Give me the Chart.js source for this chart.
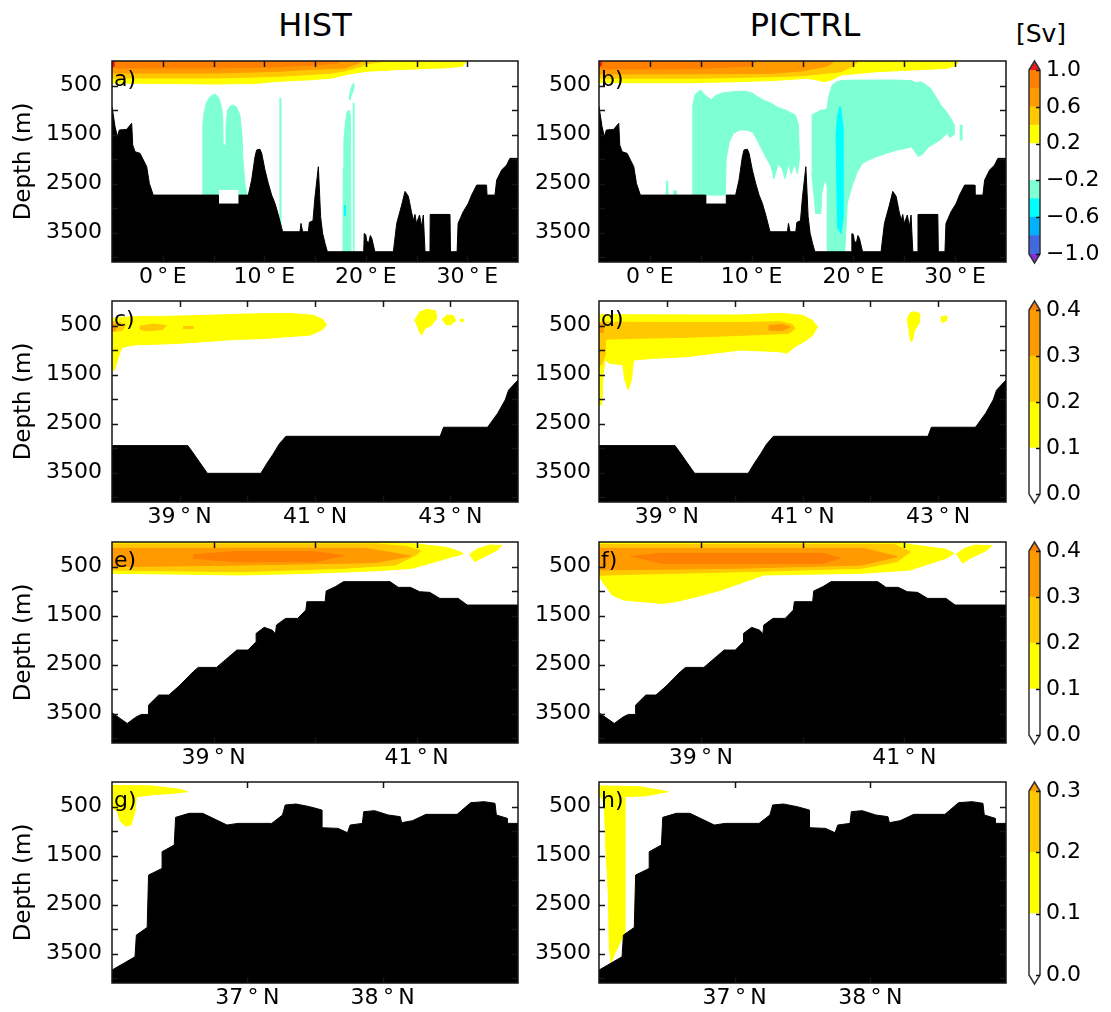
<!DOCTYPE html>
<html>
<head>
<meta charset="utf-8">
<script src="https://cdn.jsdelivr.net/npm/chart.js@4.4.1/dist/chart.umd.min.js"></script>
<style>
  html, body { margin: 0; padding: 0; background: #fff; }
  #wrap { position: relative; width: 1111px; height: 1012px; overflow: hidden; background: #fff; }
  #wrap canvas { position: absolute; }
  .lbl { position: absolute; transform: translate(-50%, -50%); white-space: nowrap; color: #000;
         font-family: "DejaVu Sans", Verdana, sans-serif; line-height: 1; }
</style>
</head>
<body>
<div id="wrap">
  <div class="lbl" style="left:315px; top:25px; font-size:32px;">HIST</div>
  <div class="lbl" style="left:805px; top:25px; font-size:32px;">PICTRL</div>
  <div class="lbl" style="left:1041px; top:33px; font-size:25px;">[Sv]</div>
</div>
<script>
// ---------------- axes ----------------
const DEPTH_MAX = 4100;
const depthLabels = [500, 1500, 2500, 3500];
const depthMarks = [500, 1000, 1500, 2000, 2500, 3000, 3500, 4000];

const lonRange = [-5, 35];
const lonLabels = [0, 10, 20, 30];
const lonMarks = [0, 5, 10, 15, 20, 25, 30];

const latRange2 = [38, 44];
const latLabels2 = [39, 41, 43];
const latMarks2 = [39, 40, 41, 42, 43];

const latRange3 = [38, 42];
const latLabels3 = [39, 41];
const latMarks3 = [39, 40, 41];

const latRange4 = [36, 39];
const latLabels4 = [37, 38];
const latMarks4 = [37, 38];

// ---------------- colour scales [Sv] ----------------
const WHITE = '#FFFFFF', YELLOW = '#FFFF00', GOLD = '#FFC800', ORANGE = '#FF9A00',
      DORANGE = '#FF8000', RED = '#EE1C1C', AQUA = '#7FFFD4', CYAN = '#00FFFF',
      SKY = '#00B2FF', ROYAL = '#4169E1', PURPLE = '#8A2BE2';

const zonalLevels = [-1.0, -0.8, -0.6, -0.4, -0.2, 0.0, 0.2, 0.4, 0.6, 0.8, 1.0];
const zonalColors = [ROYAL, SKY, CYAN, AQUA, WHITE, WHITE, YELLOW, GOLD, ORANGE, DORANGE];
const zonalTicks = [-1.0, -0.6, -0.2, 0.2, 0.6, 1.0];

const meridLevels = [0.0, 0.1, 0.2, 0.3, 0.4];
const meridColors = [WHITE, YELLOW, GOLD, ORANGE];
const meridTicks = [0.0, 0.1, 0.2, 0.3, 0.4];

const southLevels = [0.0, 0.1, 0.2, 0.3];
const southColors = [WHITE, YELLOW, GOLD];
const southTicks = [0.0, 0.1, 0.2, 0.3];

// ---------------- bottom topography [lon|lat, depth m] ----------------
const bathyZonal = [[-5,930],[-4.97,930],[-4.7,1340],[-4.47,1544],[-4.28,1408],[-3.88,1400],[-3.56,1395],
  [-3.06,1272],[-2.96,1714],[-2.73,1850],[-2.24,1884],[-1.91,2020],[-1.58,2156],[-1.32,2497],[-0.99,2701],
  [-0.93,2735],[5.48,2735],[5.48,2918],[7.51,2918],[7.51,2735],[8.43,2735],[8.76,2429],[9.09,1952],
  [9.25,1816],[9.58,1800],[9.75,1884],[10.07,2224],[10.4,2497],[10.73,2735],[11.06,2905],[11.39,3143],
  [11.81,3483],[13.52,3483],[13.62,3313],[13.78,3483],[14.34,3483],[14.45,3290],[14.8,3258],[15.0,2769],
  [15.33,2156],[15.45,2700],[15.55,3170],[15.75,3517],[15.99,3721],[16.22,3891],[19.8,3891],[19.85,3520],
  [20.0,3540],[20.1,3680],[20.3,3700],[20.45,3560],[20.6,3620],[20.9,3891],[22.72,3891],[23.05,3313],
  [23.54,2939],[23.87,2660],[24.2,2760],[24.5,3075],[24.7,3250],[24.85,3130],[25.0,3313],[25.3,3143],
  [25.51,3381],[25.67,3143],[25.84,3891],[26.33,3891],[26.35,3130],[28.3,3130],[28.35,3891],[29.0,3891],
  [29.1,3313],[29.6,3075],[30.1,2905],[30.43,2735],[30.93,2531],[31.9,2531],[31.95,2735],[32.73,2735],
  [32.9,2429],[33.39,2224],[33.88,2122],[34.2,1986],[35,1986]];

const bathyMerid2 = [[38,2950],[39.12,2950],[39.2,3100],[39.3,3300],[39.41,3515],[40.2,3515],[40.29,3310],
  [40.38,3125],[40.47,2920],[40.57,2760],[42.85,2760],[42.9,2575],[43.55,2575],[43.7,2290],[43.81,2020],
  [43.86,1820],[43.93,1715],[44,1610]];

const bathyMerid3 = [[38.0,3483],[38.15,3701],[38.24,3565],[38.29,3517],[38.36,3517],[38.36,3327],
  [38.46,3122],[38.56,3122],[38.66,2939],[38.8,2646],[38.85,2558],[39.03,2558],[39.23,2204],[39.34,2204],
  [39.42,2034],[39.42,1864],[39.5,1741],[39.58,1800],[39.61,1878],[39.62,1694],[39.71,1558],[39.83,1558],
  [39.91,1388],[39.92,1218],[40.1,1218],[40.11,1000],[40.2,911],[40.28,809],[40.74,809],[40.82,925],
  [40.94,925],[41.03,1014],[41.13,1027],[41.23,1150],[41.41,1150],[41.5,1286],[42.0,1286]];

const bathyMerid4 = [[36.0,3837],[36.17,3565],[36.18,3122],[36.26,2966],[36.27,1898],[36.37,1762],
  [36.37,1422],[36.46,1286],[36.47,721],[36.57,639],[36.67,639],[36.85,878],[36.93,844],[37.18,844],
  [37.26,673],[37.28,469],[37.36,449],[37.46,503],[37.55,571],[37.55,932],[37.67,946],[37.74,1034],
  [37.76,878],[37.85,844],[37.86,605],[37.94,585],[38.04,673],[38.13,707],[38.14,830],[38.22,789],
  [38.32,660],[38.55,660],[38.65,422],[38.75,401],[38.83,435],[38.84,673],[38.92,741],[38.92,844],[39.0,844]];

// ---------------- transport contour regions [lon|lat, depth m] ----------------
// a) HIST, zonal section
const histA_pos02 = [[-5,0],[30,0],[29.8,40],[29.5,110],[27.8,140],[22.9,177],[20,211],[18,279],[16.7,347],
  [14.7,381],[11.4,415],[9,460],[5,470],[1,460],[-5,450]];
const histA_pos04 = [[-5,0],[22,0],[20,60],[19.6,109],[18,197],[16.5,250],[11.4,313],[5,347],[-5,347]];
const histA_pos06 = [[-5,0],[19.6,0],[19.3,40],[18,143],[14.7,170],[11.4,211],[5,245],[-5,245]];
const histA_pos08 = [[-5,0],[17.5,0],[17.3,41],[14.7,88],[9.8,129],[5,140],[-5,143]];
const histA_pos10 = [[-5,0],[-4.8,0],[-4.8,110],[-5,110]];
const histA_neg02a = [[3.93,2760],[3.95,1300],[4.06,1068],[4.3,850],[4.7,720],[5.15,673],[5.5,740],[5.8,950],
  [5.92,1200],[5.95,1714],[6.2,1714],[6.23,1300],[6.4,1000],[6.7,910],[6.98,898],[7.3,950],[7.6,1100],
  [7.8,1500],[7.9,2000],[8.1,2500],[8.3,2760],[7.51,2760],[7.51,2620],[5.48,2620],[5.48,2760]];
const histA_neg02b = [[11.49,761],[11.62,761],[11.62,3500],[11.49,3500]];
const histA_neg02c = [[17.75,3900],[17.78,2200],[17.85,1600],[18.0,1250],[18.15,1040],[18.35,1000],[18.5,1100],[18.55,3900]];
const histA_neg02d = [[18.72,860],[18.82,860],[18.82,3900],[18.72,3900]];
const histA_neg02e = [[18.35,780],[18.45,650],[18.55,560],[18.7,470],[18.82,455],[18.85,530],[18.7,640],[18.55,720],[18.45,800]];
const histA_neg04 = [[17.85,2950],[17.98,2950],[17.98,3150],[17.85,3150]];

// b) PICTRL, zonal section
const pictB_pos02 = [[-5,0],[30.3,0],[30.2,60],[30.0,100],[29.2,150],[25.7,184],[22.3,218],[18.8,286],
  [17.9,380],[17.1,422],[16.3,380],[15.4,354],[12,400],[8.45,422],[4,442],[-5,442]];
const pictB_pos04 = [[-5,0],[20.5,0],[20,100],[18.8,218],[15,300],[11.9,320],[5,350],[-5,354]];
const pictB_pos06 = [[-5,0],[18.1,0],[17.5,100],[15,200],[11.9,252],[5,262],[-5,265]];
const pictB_pos08 = [[-5,0],[10.5,0],[10,100],[5,150],[0,163],[-5,163]];
const pictB_pos10 = [[-5,0],[-4.8,0],[-4.8,100],[-5,100]];
const pictB_neg02a = [[4.2,2760],[4.2,1300],[4.23,900],[4.45,680],[4.99,592],[5.45,700],[6.03,790],[6.5,700],
  [7.2,650],[8.45,620],[9.48,620],[10.1,660],[10.52,720],[11.2,800],[11.9,860],[12.6,950],[13.3,1000],
  [13.8,1050],[14.3,1100],[14.6,1300],[14.7,2000],[14.5,2300],[14.2,2100],[13.9,2300],[13.6,2100],
  [13.3,2400],[13.0,2200],[12.6,2100],[12.2,2400],[11.9,2150],[11.5,2000],[11.0,1800],[10.52,1600],
  [10.1,1450],[9.48,1408],[8.8,1408],[8.2,1480],[7.8,1650],[7.5,2000],[7.41,2735],[5.48,2735],[5.48,2760]];
const pictB_neg02b = [[15.9,1100],[16.4,1050],[16.8,1000],[17.2,1000],[17.43,950],[17.6,700],[17.9,500],
  [18.3,430],[18.8,400],[20,390],[22.27,388],[24,388],[25.7,400],[26.2,450],[26.6,420],[27,470],[27.6,560],
  [28.2,760],[28.6,900],[29.2,1050],[29.6,1180],[29.9,1300],[29.9,1500],[29.5,1560],[29.2,1476],[28.6,1600],
  [28.0,1680],[27.4,1750],[26.8,1900],[26.4,1950],[25.7,1748],[25,1790],[24.2,1820],[23.3,1880],[22.27,1952],
  [21.5,2020],[20.9,2088],[20.4,2250],[19.85,2565],[19.4,2900],[19.15,3900],[17.5,3900],[17.43,2565],
  [17.2,2400],[16.9,2700],[16.8,3109],[16.3,3109],[16.1,2700],[15.9,2300]];
const pictB_neg02c = [[30.45,1306],[30.65,1306],[30.65,1612],[30.45,1612]];
const pictB_neg02d = [[1.6,2450],[1.75,2450],[1.8,2760],[1.55,2760]];
const pictB_neg02e = [[2.3,2650],[2.6,2650],[2.6,2760],[2.3,2760]];
const pictB_neg04 = [[18.6,932],[18.75,940],[18.95,1300],[18.97,3200],[18.8,3517],[18.45,3400],[18.3,1500],[18.45,1100]];

// c) HIST, second section
const histC_pos01 = [[38.0,353],[38.31,320],[39.05,306],[39.99,265],[40.63,252],[40.97,290],[41.12,380],
  [41.17,490],[41.1,592],[40.93,694],[40.28,762],[39.69,796],[39.0,864],[38.31,898],[38.15,950],[38.12,1034],
  [38.06,1300],[38.04,1408],[38.0,1408]];
const histC_pos01b = [[42.47,400],[42.55,220],[42.65,170],[42.78,200],[42.8,350],[42.72,500],[42.62,560],[42.58,694],[42.53,600]];
const histC_pos01c = [[42.88,380],[42.95,286],[43.05,300],[43.08,400],[43.0,490],[42.92,470]];
const histC_pos01d = [[43.14,371],[43.19,371],[43.19,418],[43.14,418]];
const histC_pos02a = [[38.0,422],[38.12,430],[38.2,500],[38.15,600],[38.0,626]];
const histC_pos02b = [[38.41,520],[38.6,470],[38.8,500],[38.75,580],[38.5,610],[38.41,570]];
const histC_pos02c = [[39.05,520],[39.2,520],[39.2,560],[39.05,560]];
const histC_pos03 = [[38.0,470],[38.05,480],[38.05,600],[38.0,610]];

// d) PICTRL, second section
const pictD_pos01 = [[38.0,280],[40.08,286],[40.67,251],[41.0,290],[41.15,400],[41.22,524],[41.15,700],
  [41.06,796],[40.89,932],[40.77,1068],[40.67,1034],[40.08,1000],[39.29,1136],[38.8,1170],[38.51,1204],
  [38.48,1600],[38.43,1816],[38.38,1600],[38.35,1300],[38.16,1272],[38.09,1200],[38.06,1500],[38.04,2122],[38.0,2122]];
const pictD_pos01b = [[42.54,400],[42.58,250],[42.65,218],[42.73,260],[42.72,450],[42.65,600],[42.62,800],[42.6,830],[42.57,650]];
const pictD_pos01c = [[43.04,320],[43.13,306],[43.12,400],[43.07,442],[43.04,400]];
const pictD_pos02 = [[38.0,430],[39,440],[40.08,440],[40.67,422],[40.85,480],[40.89,560],[40.8,660],[40.08,700],
  [39.3,740],[38.5,762],[38.1,780],[38.09,1100],[38.04,1300],[38.0,1300]];
const pictD_pos03a = [[38.0,470],[38.06,470],[38.06,640],[38.0,640]];
const pictD_pos03b = [[40.5,500],[40.7,480],[40.82,530],[40.7,600],[40.5,590]];

// e) HIST, third section
const histE_pos01 = [[38.0,0],[40.62,0],[41.0,40],[41.3,110],[41.43,200],[41.46,240],[41.3,333],[41.13,435],
  [40.96,537],[40.62,585],[39.94,639],[39.27,673],[38.6,653],[38.0,639]];
const histE_pos01b = [[41.52,260],[41.6,140],[41.72,61],[41.84,70],[41.8,160],[41.67,300],[41.57,401]];
const histE_pos02 = [[38.0,40],[40.6,40],[40.9,90],[41.04,180],[41.0,260],[40.79,469],[40.28,537],[39.27,605],[38.0,571]];
const histE_pos03 = [[38.0,129],[40.5,129],[40.94,286],[40.6,420],[39.3,469],[38.0,503]];
const histE_pos04 = [[38.8,260],[39.2,197],[40.0,197],[40.28,280],[40.0,401],[39.2,401],[38.8,330]];

// f) PICTRL, third section
const pictF_pos01 = [[38.0,0],[40.9,0],[41.1,61],[41.41,150],[41.49,231],[41.41,333],[41.06,571],[40.58,639],
  [39.62,673],[39.48,776],[39.2,980],[38.96,1116],[38.75,1218],[38.62,1252],[38.24,1184],[38.13,1082],[38.0,707]];
const pictF_pos01b = [[41.51,250],[41.6,120],[41.7,61],[41.86,80],[41.8,180],[41.65,330],[41.57,435]];
const pictF_pos02 = [[38.0,50],[40.9,50],[41.06,200],[40.93,400],[40.58,537],[39.5,600],[38.3,660],[38.0,680]];
const pictF_pos03 = [[38.0,129],[40.6,129],[40.93,299],[40.58,469],[39.33,537],[38.0,571]];
const pictF_pos04 = [[38.31,300],[38.6,231],[40.2,231],[40.37,330],[40.2,435],[38.6,435]];

// g) HIST, fourth section
const histG_pos01 = [[36.0,70],[36.3,80],[36.5,150],[36.56,197],[36.45,231],[36.3,260],[36.18,300],[36.17,600],
  [36.14,878],[36.1,900],[36.06,800],[36.04,600],[36.0,520]];

// h) PICTRL, fourth section
const pictH_pos01 = [[36.0,80],[36.3,95],[36.51,197],[36.35,280],[36.19,299],[36.19,3088],[36.15,3300],
  [36.1,3600],[36.09,3701],[36.075,3361],[36.07,2340],[36.05,1320],[36.04,500],[36.02,320],[36.0,300]];

// ---------------- figure layout ----------------
const FONT = '"DejaVu Sans", Verdana, sans-serif';
Chart.defaults.font.family = FONT;
Chart.defaults.color = '#000';

const COL_X = [112, 599];
const COL_W = [406, 407];
const COL_CANVAS_LEFT = [0, 527];
const COL_LABEL_PAD = [10, 8];
const ROW_Y = [61, 301, 542, 782];
const ROW_H = 201;
const BAR_LEFT = 1029, BAR_RIGHT = 1040;

const sections = [
  { range: lonRange, labels: lonLabels, marks: lonMarks, hemi: 'E', bathy: bathyZonal },
  { range: latRange2, labels: latLabels2, marks: latMarks2, hemi: 'N', bathy: bathyMerid2 },
  { range: latRange3, labels: latLabels3, marks: latMarks3, hemi: 'N', bathy: bathyMerid3 },
  { range: latRange4, labels: latLabels4, marks: latMarks4, hemi: 'N', bathy: bathyMerid4 }
];

const colorbars = [
  { levels: zonalLevels, colors: zonalColors, ticks: zonalTicks, under: PURPLE, over: RED },
  { levels: meridLevels, colors: meridColors, ticks: meridTicks, under: WHITE, over: DORANGE },
  { levels: meridLevels, colors: meridColors, ticks: meridTicks, under: WHITE, over: DORANGE },
  { levels: southLevels, colors: southColors, ticks: southTicks, under: WHITE, over: ORANGE }
];

const panels = [
  { tag: 'a', row: 0, col: 0, regions: [[histA_pos02,0.2],[histA_pos04,0.4],[histA_pos06,0.6],[histA_pos08,0.8],[histA_pos10,1.0],
      [histA_neg02a,-0.2],[histA_neg02b,-0.2],[histA_neg02c,-0.2],[histA_neg02d,-0.2],[histA_neg02e,-0.2],[histA_neg04,-0.4]] },
  { tag: 'b', row: 0, col: 1, regions: [[pictB_pos02,0.2],[pictB_pos04,0.4],[pictB_pos06,0.6],[pictB_pos08,0.8],[pictB_pos10,1.0],
      [pictB_neg02a,-0.2],[pictB_neg02b,-0.2],[pictB_neg02c,-0.2],[pictB_neg02d,-0.2],[pictB_neg02e,-0.2],[pictB_neg04,-0.4]] },
  { tag: 'c', row: 1, col: 0, regions: [[histC_pos01,0.1],[histC_pos01b,0.1],[histC_pos01c,0.1],[histC_pos01d,0.1],
      [histC_pos02a,0.2],[histC_pos02b,0.2],[histC_pos02c,0.2],[histC_pos03,0.3]] },
  { tag: 'd', row: 1, col: 1, regions: [[pictD_pos01,0.1],[pictD_pos01b,0.1],[pictD_pos01c,0.1],[pictD_pos02,0.2],
      [pictD_pos03a,0.3],[pictD_pos03b,0.3]] },
  { tag: 'e', row: 2, col: 0, regions: [[histE_pos01,0.1],[histE_pos01b,0.1],[histE_pos02,0.2],[histE_pos03,0.3],[histE_pos04,0.4]] },
  { tag: 'f', row: 2, col: 1, regions: [[pictF_pos01,0.1],[pictF_pos01b,0.1],[pictF_pos02,0.2],[pictF_pos03,0.3],[pictF_pos04,0.4]] },
  { tag: 'g', row: 3, col: 0, regions: [[histG_pos01,0.1]] },
  { tag: 'h', row: 3, col: 1, regions: [[pictH_pos01,0.1]] }
];

// ---------------- helpers ----------------
const wrap = document.getElementById('wrap');

function addCanvas(left, top, w, h) {
  const c = document.createElement('canvas');
  c.width = w; c.height = h;
  c.style.left = left + 'px'; c.style.top = top + 'px';
  c.style.width = w + 'px'; c.style.height = h + 'px';
  wrap.appendChild(c);
  return c;
}

const toXY = pts => pts.map(([x, y]) => ({ x, y }));

// colour of the band bounded by a contour level (towards larger |value|)
function colorFor(cb, level) {
  const L = cb.levels;
  if (level > 0) {
    if (level >= L[L.length - 1]) return cb.over;
    const i = L.findIndex(v => Math.abs(v - level) < 1e-9);
    return cb.colors[i];
  }
  if (level <= L[0]) return cb.under;
  const i = L.findIndex(v => Math.abs(v - level) < 1e-9);
  return cb.colors[i - 1];
}

const fmtSv = v => (v < 0 ? '\u2212' : '') + Math.abs(v).toFixed(1);

// frame, inward tick marks and panel letter
function panelDecor(tag, xMarks) {
  return {
    id: 'panelDecor',
    afterDatasetsDraw(chart) {
      const { ctx, chartArea: a, scales: { x, y } } = chart;
      ctx.save();
      ctx.strokeStyle = '#151515';
      ctx.lineWidth = 1.5;
      ctx.beginPath();
      for (const v of xMarks) {
        const px = Math.round(x.getPixelForValue(v)) + 0.5;
        ctx.moveTo(px, a.top); ctx.lineTo(px, a.top + 6);
        ctx.moveTo(px, a.bottom); ctx.lineTo(px, a.bottom - 6);
      }
      for (const v of depthMarks) {
        const py = Math.round(y.getPixelForValue(v)) + 0.5;
        ctx.moveTo(a.left, py); ctx.lineTo(a.left + 6, py);
        ctx.moveTo(a.right, py); ctx.lineTo(a.right - 6, py);
      }
      ctx.stroke();
      ctx.strokeRect(a.left, a.top, a.right - a.left, a.bottom - a.top);
      ctx.fillStyle = '#000';
      ctx.font = '22px ' + FONT;
      ctx.textAlign = 'left';
      ctx.textBaseline = 'middle';
      ctx.fillText(tag + ')', a.left + 2, a.top + 19);
      ctx.restore();
    }
  };
}

function makePanel(p) {
  const sec = sections[p.row];
  const cb = colorbars[p.row];
  const left = COL_CANVAS_LEFT[p.col];
  const yAxisW = COL_X[p.col] - left;
  const padTop = 26, padRight = 8, axisH = 36;
  const cv = addCanvas(left, ROW_Y[p.row] - padTop, yAxisW + COL_W[p.col] + padRight, padTop + ROW_H + axisH);

  const n = p.regions.length;
  const datasets = [{
    data: toXY(sec.bathy), fill: { value: DEPTH_MAX },
    backgroundColor: '#000', borderColor: '#000', borderWidth: 1, order: 0
  }];
  p.regions.forEach(([pts, level], i) => {
    const c = colorFor(cb, level);
    datasets.push({ data: toXY(pts), fill: 'shape', backgroundColor: c, borderColor: c, borderWidth: 1, order: n - i });
  });

  new Chart(cv, {
    type: 'line',
    data: { datasets },
    options: {
      responsive: false, animation: false, devicePixelRatio: 1, events: [],
      layout: { padding: { top: padTop, right: padRight, left: 0, bottom: 0 } },
      elements: { point: { radius: 0 }, line: { tension: 0 } },
      plugins: { legend: { display: false }, tooltip: { enabled: false }, filler: { propagate: false } },
      scales: {
        x: {
          type: 'linear', min: sec.range[0], max: sec.range[1],
          grid: { display: false, drawTicks: false }, border: { display: false },
          ticks: { font: { size: 22 }, color: '#000', padding: 2, autoSkip: false, maxRotation: 0, minRotation: 0,
                   callback: v => v + '\u2009\u00B0\u2009' + sec.hemi },
          afterBuildTicks: s => { s.ticks = sec.labels.map(v => ({ value: v })); },
          afterFit: s => { s.height = axisH; s.paddingLeft = 0; s.paddingRight = 0; }
        },
        y: {
          type: 'linear', reverse: true, min: 0, max: DEPTH_MAX,
          grid: { display: false, drawTicks: false }, border: { display: false },
          title: { display: p.col === 0, text: 'Depth (m)', font: { size: 23 }, color: '#000', padding: { top: 10, bottom: 0 } },
          ticks: { font: { size: 22 }, color: '#000', padding: COL_LABEL_PAD[p.col], autoSkip: false,
                   callback: v => String(v) },
          afterBuildTicks: s => { s.ticks = depthLabels.map(v => ({ value: v })); },
          afterFit: s => { s.width = yAxisW; s.paddingTop = 0; s.paddingBottom = 0; }
        }
      }
    },
    plugins: [panelDecor(p.tag, sec.marks)]
  });
}

// colour bar with end triangles
function colorbarDecor(cb) {
  return {
    id: 'colorbarDecor',
    afterDatasetsDraw(chart) {
      const { ctx, chartArea: a, scales: { y } } = chart;
      const L = cb.levels;
      const yt = y.getPixelForValue(L[L.length - 1]);
      const yb = y.getPixelForValue(L[0]);
      const mid = (a.left + a.right) / 2, tri = 9;
      ctx.save();
      ctx.fillStyle = cb.over;
      ctx.beginPath(); ctx.moveTo(a.left, yt); ctx.lineTo(mid, yt - tri); ctx.lineTo(a.right, yt); ctx.closePath(); ctx.fill();
      ctx.fillStyle = cb.under;
      ctx.beginPath(); ctx.moveTo(a.left, yb); ctx.lineTo(mid, yb + tri); ctx.lineTo(a.right, yb); ctx.closePath(); ctx.fill();
      ctx.strokeStyle = '#333';
      ctx.lineWidth = 1.5;
      ctx.beginPath();
      ctx.moveTo(a.left, yt); ctx.lineTo(mid, yt - tri); ctx.lineTo(a.right, yt);
      ctx.lineTo(a.right, yb); ctx.lineTo(mid, yb + tri); ctx.lineTo(a.left, yb); ctx.closePath();
      ctx.stroke();
      ctx.strokeStyle = '#111';
      ctx.beginPath();
      for (const v of cb.ticks) {
        const py = Math.round(y.getPixelForValue(v)) + 0.5;
        ctx.moveTo(a.right - 4, py); ctx.lineTo(a.right, py);
      }
      ctx.stroke();
      ctx.restore();
    }
  };
}

function makeColorbar(row) {
  const cb = colorbars[row];
  const L = cb.levels;
  const top = ROW_Y[row] - 20, h = ROW_H + 40, left = 1008, w = 1111 - 1008;
  const rectTop = ROW_Y[row] + 9, rectBot = ROW_Y[row] + ROW_H - 8;
  const cv = addCanvas(left, top, w, h);
  new Chart(cv, {
    type: 'bar',
    data: {
      labels: [''],
      datasets: cb.colors.map((c, i) => ({
        data: [[L[i], L[i + 1]]], backgroundColor: c, borderWidth: 0,
        barPercentage: 1, categoryPercentage: 1, grouped: false
      }))
    },
    options: {
      responsive: false, animation: false, devicePixelRatio: 1, events: [],
      layout: { padding: { left: BAR_LEFT - left, top: rectTop - top, bottom: top + h - rectBot, right: 0 } },
      plugins: { legend: { display: false }, tooltip: { enabled: false } },
      scales: {
        x: { display: false },
        y: {
          position: 'right', min: L[0], max: L[L.length - 1],
          grid: { display: false, drawTicks: false }, border: { display: false },
          ticks: { font: { size: 22 }, color: '#000', padding: 6, autoSkip: false, callback: v => fmtSv(v) },
          afterBuildTicks: s => { s.ticks = cb.ticks.map(v => ({ value: v })); },
          afterFit: s => { s.width = left + w - BAR_RIGHT; s.paddingTop = 0; s.paddingBottom = 0; }
        }
      }
    },
    plugins: [colorbarDecor(cb)]
  });
}

panels.forEach(makePanel);
[0, 1, 2, 3].forEach(makeColorbar);
</script>
</body>
</html>
